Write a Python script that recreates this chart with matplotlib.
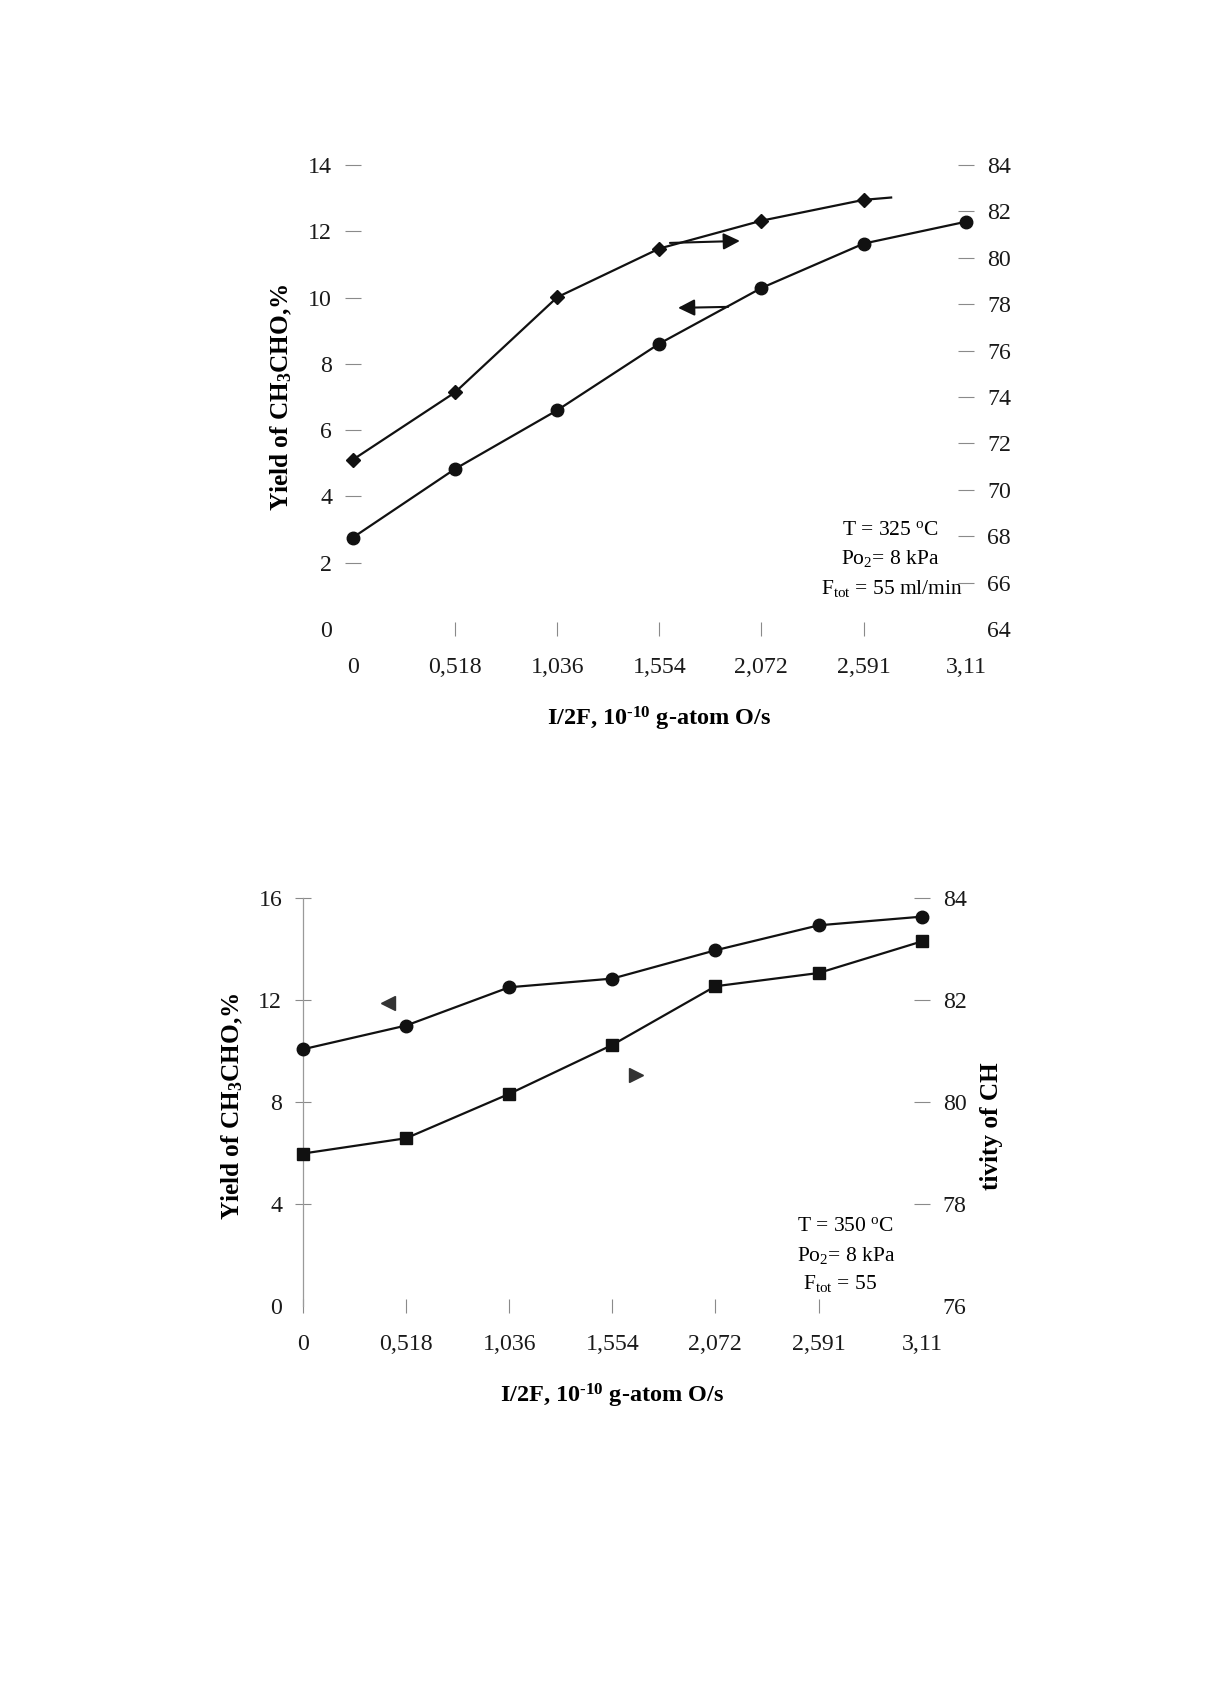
import matplotlib
matplotlib.use('Agg')
import matplotlib.pyplot as plt

plt.rcParams['font.family'] = ['Liberation Serif', 'DejaVu Serif']
plt.rcParams['mathtext.fontset'] = 'custom'
plt.rcParams['mathtext.rm'] = 'Liberation Serif'
plt.rcParams['mathtext.it'] = 'Liberation Serif:italic'
plt.rcParams['mathtext.bf'] = 'Liberation Serif:bold'

# x values (I/2F, 10^-10 g-atom O/s)
flux = [0, 0.518, 1.036, 1.554, 2.072, 2.591, 3.11]
flux_labels = ['0', '0,518', '1,036', '1,554', '2,072', '2,591', '3,11']

# T = 325 C
yield_325 = [2.76, 4.83, 6.6, 8.61, 10.29, 11.63, 12.29]
select_325 = [71.3, 74.2, 78.3, 80.4, 81.6, 82.5]   # last point lost in the scan
select_325_tail_x = [2.591, 2.73]
select_325_tail_y = [82.5, 82.6]

# T = 350 C
yield_350 = [10.07, 11.0, 12.5, 12.84, 13.95, 14.93, 15.27]
select_350 = [78.99, 79.29, 80.16, 81.12, 82.27, 82.53, 83.15]

yticks_top = [0, 2, 4, 6, 8, 10, 12, 14]
y2ticks_top = [64, 66, 68, 70, 72, 74, 76, 78, 80, 82, 84]
yticks_bot = [0, 4, 8, 12, 16]
y2ticks_bot = [76, 78, 80, 82, 84]

LINE = '#111111'
TICK = '#8a8a8a'
FS = 17.2
XLAB = 'I/2F, 10$^{\\mathbf{\u2010}\\mathbf{10}}$ g-atom O/s'
YLAB = 'Yield of CH$_\\mathbf{3}$CHO,%'


def setup(ax, ax2, yt, y2t, left_spine=False):
    ax.set_xlim(0, 3.11)
    ax.set_ylim(yt[0], yt[-1])
    ax2.set_ylim(y2t[0], y2t[-1])
    for a in (ax, ax2):
        for s in a.spines.values():
            s.set_visible(False)
    if left_spine:
        ax.spines['left'].set_visible(True)
        ax.spines['left'].set_color('#9a9a9a')
        ax.spines['left'].set_linewidth(0.9)
    ax.set_xticks(flux)
    ax.set_xticklabels(flux_labels)
    ax.tick_params(axis='x', direction='inout', length=10, color=TICK,
                   labelsize=FS, labelcolor='#1a1a1a', pad=15)
    xt = ax.xaxis.get_major_ticks()
    xt[0].tick1line.set_visible(left_spine)
    xt[-1].tick1line.set_visible(False)
    ax.set_yticks(yt)
    ax.tick_params(axis='y', direction='inout', length=12, color=TICK,
                   labelsize=FS, labelcolor='#1a1a1a', pad=9)
    ax.yaxis.get_major_ticks()[0].tick1line.set_visible(False)
    ax2.set_yticks(y2t)
    ax2.tick_params(axis='y', direction='inout', length=12, color=TICK,
                    labelsize=FS, labelcolor='#1a1a1a', pad=9)
    ax2.yaxis.get_major_ticks()[0].tick2line.set_visible(False)


fig = plt.figure(figsize=(12.05, 17.05), dpi=100)
fig.patch.set_facecolor('white')

# ---------------- top chart, 325 C ----------------
ax = fig.add_axes([0.2929, 0.6311, 0.5088, 0.2721])
ax2 = ax.twinx()
setup(ax, ax2, yticks_top, y2ticks_top)

ax.plot(flux, yield_325, '-o', color=LINE, lw=1.6, ms=9, clip_on=False, zorder=5)
ax2.plot(flux[:len(select_325)], select_325, '-D', color=LINE, lw=1.6, ms=7.5,
         clip_on=False, zorder=5)
ax2.plot(select_325_tail_x, select_325_tail_y, '-', color=LINE, lw=1.6)

arrow = dict(arrowstyle='-|>', mutation_scale=25, lw=1.5, color=LINE,
             shrinkA=0, shrinkB=0)
ax.annotate('', xy=(1.963, 11.71), xytext=(1.608, 11.65), arrowprops=arrow)
ax.annotate('', xy=(1.649, 9.69), xytext=(1.903, 9.72), arrowprops=arrow)

ax.text(-0.117, 0.5, YLAB, transform=ax.transAxes,
        rotation=90, ha='center', va='center', fontsize=18.2, fontweight='bold')
ax.text(0.5, -0.164, XLAB, transform=ax.transAxes,
        ha='center', va='top', fontsize=17.5, fontweight='bold')

ax.text(0.876, 0.213, 'T = 325 $^{\\rm o}$C', transform=ax.transAxes,
        ha='center', va='center', fontsize=15.5)
ax.text(0.876, 0.151, 'Po$_2$= 8 kPa', transform=ax.transAxes,
        ha='center', va='center', fontsize=15.5)
ax.text(0.879, 0.088, 'F$_{\\rm tot}$ = 55 ml/min', transform=ax.transAxes,
        ha='center', va='center', fontsize=15.5)

# ---------------- bottom chart, 350 C ----------------
bx = fig.add_axes([0.2515, 0.2340, 0.5136, 0.2393])
bx2 = bx.twinx()
setup(bx, bx2, yticks_bot, y2ticks_bot, left_spine=True)

bx.plot(flux, yield_350, '-o', color=LINE, lw=1.6, ms=9, clip_on=False, zorder=5)
bx2.plot(flux, select_350, '-s', color=LINE, lw=1.6, ms=8.5, clip_on=False, zorder=5)

# arrowheads (shafts lost in the scan)
bx.plot([0.427], [11.88], marker='<', ms=10, color='#333333', linestyle='none')
bx.plot([1.673], [9.06], marker='>', ms=10, color='#333333', linestyle='none')

bx.text(-0.115, 0.49, YLAB, transform=bx.transAxes,
        rotation=90, ha='center', va='center', fontsize=18.2, fontweight='bold')
bx.text(0.5, -0.186, XLAB, transform=bx.transAxes,
        ha='center', va='top', fontsize=17.5, fontweight='bold')
bx.text(1.113, 0.441, 'tivity of CH', transform=bx.transAxes, rotation=90,
        ha='center', va='center', fontsize=18.2, fontweight='bold')

bx.text(0.877, 0.194, 'T = 350 $^{\\rm o}$C', transform=bx.transAxes,
        ha='center', va='center', fontsize=15.5)
bx.text(0.877, 0.125, 'Po$_2$= 8 kPa', transform=bx.transAxes,
        ha='center', va='center', fontsize=15.5)
bx.text(0.868, 0.054, 'F$_{\\rm tot}$ = 55', transform=bx.transAxes,
        ha='center', va='center', fontsize=15.5)

fig.savefig('out.png', dpi=100, facecolor='white')
